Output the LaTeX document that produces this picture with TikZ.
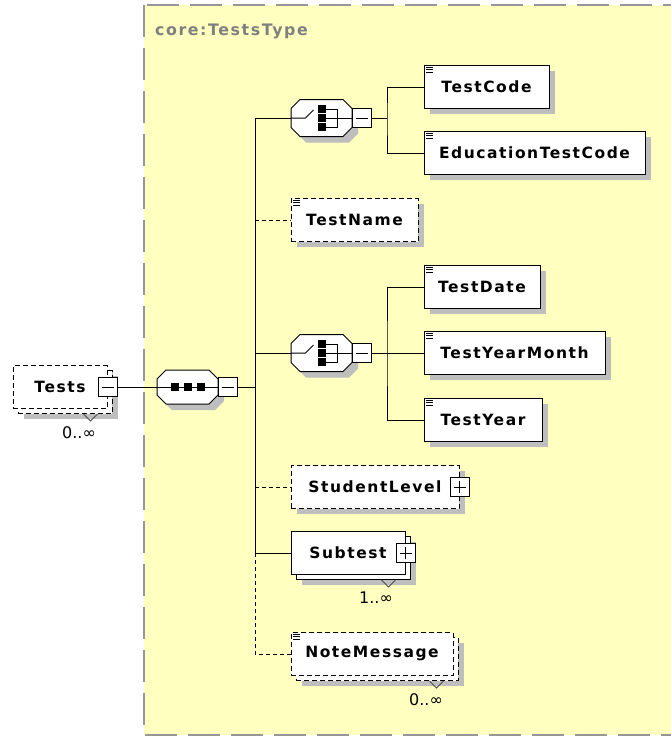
\documentclass[tikz,border=0pt]{standalone}
\usepackage{fontspec}
\newfontfamily\diagfont{DejaVu Sans}[LetterSpace=10]
\newfontfamily\countfont{DejaVu Sans}
\usepackage{tikz}
\usetikzlibrary{shadows}
\definecolor{typeyellow}{RGB}{255,255,192}
\definecolor{typeline}{RGB}{150,150,150}
\definecolor{typetext}{RGB}{128,128,128}
\definecolor{shadowgray}{RGB}{190,190,190}
% octagon of a compositor, half height as argument
\newcommand{\octpath}[1]{(-21.5,-#1) -- (21.5,-#1) -- (30.5,9-#1) -- (30.5,#1-9) -- (21.5,#1) -- (-21.5,#1) -- (-30.5,#1-9) -- (-30.5,9-#1) -- cycle}
\tikzset{
    elem/.style={rectangle, draw, fill=white, line width=1pt, minimum height=43pt, inner sep=0pt,
        font=\diagfont\bfseries\fontsize{15.5}{18}\selectfont,
        general shadow={fill=shadowgray, shadow xshift=6pt, shadow yshift=-5pt}},
    optelem/.style={elem, dash pattern=on 5pt off 3pt},
    multi/.style={general shadow={fill=shadowgray, shadow xshift=11pt, shadow yshift=-10pt},
        general shadow={draw=black, fill=white, shadow xshift=5pt, shadow yshift=-5pt}},
    simple/.style={path picture={
        \coordinate (nw) at (path picture bounding box.north west);
        \foreach \dy in {2,4.3,6.6}
            \draw[solid, line width=0.9pt] ([xshift=2pt,yshift=-\dy pt]nw) -- ++(7pt,0pt);}},
    octagon/.style={draw, fill=white, line width=1pt},
    glyph/.style={draw, line width=1pt},
    sequencebox/.pic={
        \fill[shadowgray, shift={(6,6)}] \octpath{17};
        \path[octagon] \octpath{17};
        \draw[glyph] (-30.5,0) -- (30.5,0);
        \foreach \dx in {-13,0,13}
            \fill[black] (\dx-4,-4) rectangle ++(8,8);
        \node[inner sep=0pt, minimum width=61pt, minimum height=34pt] (-box) {};
    },
    choicebox/.pic={
        \fill[shadowgray, shift={(6,6)}] \octpath{18.5};
        \path[octagon] \octpath{18.5};
        \draw[glyph] (-30.5,0) -- (-16,0) -- (-8,-8);
        \foreach \dy in {-9,0,9}
            \fill[black] (-4,\dy-4) rectangle ++(8,8);
        \draw[glyph] (4,-9) -| (16,0) |- (4,9);
        \draw[glyph] (4,0) -- (30.5,0);
        \node[inner sep=0pt, minimum width=61pt, minimum height=37pt] (-box) {};
    },
    minusbox/.style={rectangle, draw, solid, fill=white, line width=1pt, minimum size=19pt, inner sep=0pt,
        path picture={\draw[line width=1pt] ([xshift=-6pt]path picture bounding box.center)
            -- ([xshift=6pt]path picture bounding box.center);}},
    plusbox/.style={rectangle, draw, solid, fill=white, line width=1pt, minimum size=19pt, inner sep=0pt,
        path picture={\draw[line width=1pt] ([xshift=-6pt]path picture bounding box.center)
            -- ([xshift=6pt]path picture bounding box.center);
            \draw[line width=1pt] ([yshift=-6pt]path picture bounding box.center)
            -- ([yshift=6pt]path picture bounding box.center);}},
    link/.style={draw, line width=1pt},
    optlink/.style={link, dash pattern=on 3.5pt off 3.5pt},
    occurs/.style={font=\countfont\fontsize{16}{18}\selectfont, inner sep=0pt},
    notch/.style={draw=black!70, line width=1pt},
    typebox/.style={fill=typeyellow, draw=typeline, line width=2pt, dash pattern=on 32pt off 11pt}
}

\begin{document}
\begin{tikzpicture}[x=1pt, y=-1pt]
    \useasboundingbox (0,0) rectangle (671,736);
    \clip (0,0) rectangle (671,736);

    % type area
    \path[typebox] (144,5) rectangle (700,735);
    \node[anchor=base west, inner sep=0pt, text=typetext, font=\diagfont\bfseries\fontsize{15.8}{18}\selectfont] (typename) at (155,35) {core:TestsType};

    % Nodes
    \node[optelem, multi, minimum width=94pt] (Tests) at (60,387) {Tests\hspace{9pt}};
    \node[minusbox] (testspm) at (Tests.east) {};
    \node[occurs] (testsocc) at (79,433) {0..∞};

    \pic (seq) at (187.5,387) {sequencebox};
    \node[minusbox] (seqpm) at (227.5,387) {};

    \pic (ch1) at (321.5,118) {choicebox};
    \node[minusbox] (ch1pm) at (361.5,118) {};
    \node[elem, simple, minimum width=125pt] (TestCode) at (486.5,87) {TestCode};
    \node[elem, simple, minimum width=221pt] (EducationTestCode) at (534.5,153) {EducationTestCode};

    \node[optelem, simple, minimum width=127pt] (TestName) at (354.5,220) {TestName};

    \pic (ch2) at (321.5,353) {choicebox};
    \node[minusbox] (ch2pm) at (361.5,353) {};
    \node[elem, simple, minimum width=116pt] (TestDate) at (482,287) {TestDate};
    \node[elem, simple, minimum width=181pt] (TestYearMonth) at (514.5,353) {TestYearMonth};
    \node[elem, simple, minimum width=118pt] (TestYear) at (483,420) {TestYear};

    \node[optelem, minimum width=168pt] (StudentLevel) at (375,487) {StudentLevel\hspace{8pt}};
    \node[plusbox] (slpm) at (StudentLevel.east) {};

    \node[elem, multi, minimum width=114pt] (Subtest) at (348,553) {Subtest\hspace{8pt}};
    \node[plusbox] (subpm) at (Subtest.east) {};
    \node[occurs] (subocc) at (376,598) {1..∞};

    \node[optelem, multi, simple, minimum width=162pt] (NoteMessage) at (372,654) {NoteMessage};
    \node[occurs] (noteocc) at (426,700) {0..∞};

    \coordinate (t1) at (255,118);
    \coordinate (tsub) at (255,553);
    \coordinate (tnote) at (255,654);
    \coordinate (b1) at (387,118);
    \coordinate (b2) at (387,353);

    % notches
    \draw[notch] ([xshift=-24pt,yshift=-5pt]Tests.south east) -- ++(7pt,-7pt) -- ++(7pt,7pt);
    \draw[notch] ([xshift=-24pt,yshift=-5pt]Subtest.south east) -- ++(7pt,-7pt) -- ++(7pt,7pt);
    \draw[notch] ([xshift=-24pt,yshift=-5pt]NoteMessage.south east) -- ++(7pt,-7pt) -- ++(7pt,7pt);

    % edges
    \draw[link] (testspm) -- (seq-box);
    \draw[link] (seqpm) -- (seqpm -| t1);
    \draw[link] (t1) -- (tsub);
    \draw[optlink] (tsub) -- (tnote) -- (NoteMessage);
    \draw[link] (t1) -- (ch1-box);
    \draw[optlink] (TestName -| t1) -- (TestName);
    \draw[link] (ch2-box -| t1) -- (ch2-box);
    \draw[optlink] (StudentLevel -| t1) -- (StudentLevel);
    \draw[link] (tsub) -- (Subtest);
    \draw[link] (ch1pm) -- (b1);
    \draw[link] (TestCode) -| (b1) |- (EducationTestCode);
    \draw[link] (ch2pm) -- (b2);
    \draw[link] (TestDate) -| (b2) |- (TestYear);
    \draw[link] (b2) -- (TestYearMonth);
\end{tikzpicture}
\end{document}
